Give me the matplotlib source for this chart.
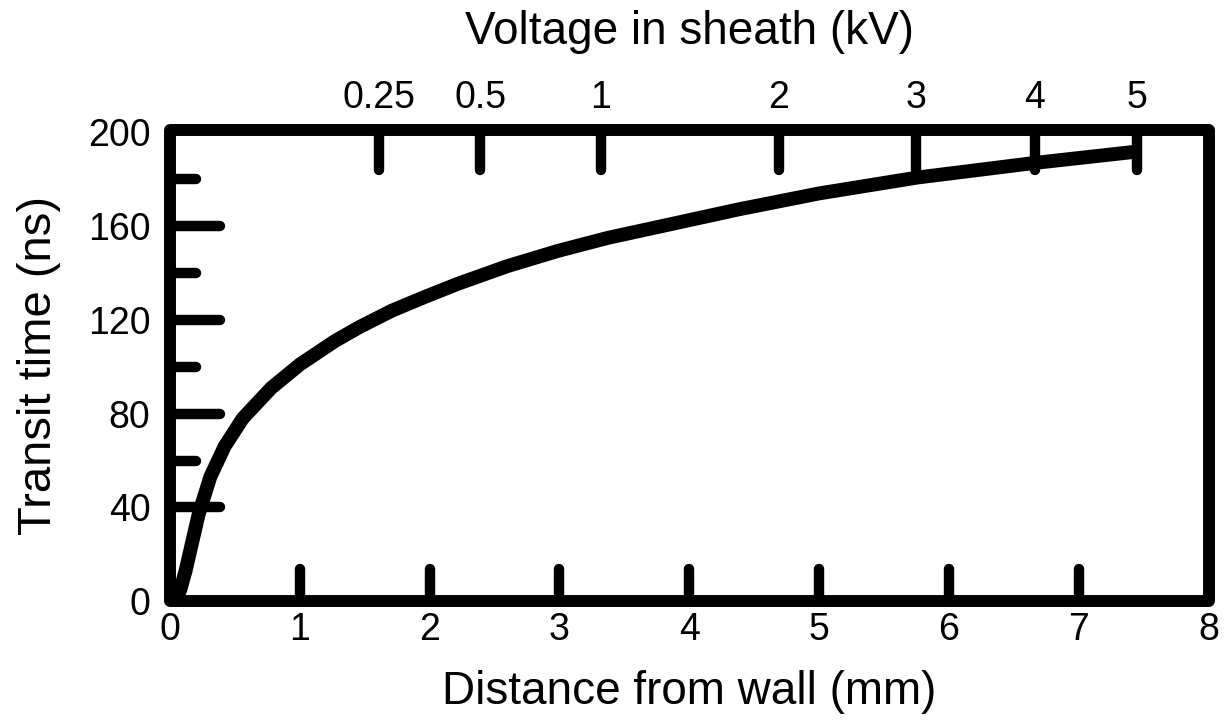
import matplotlib
matplotlib.use("Agg")
import matplotlib.pyplot as plt
from matplotlib.markers import MarkerStyle
from matplotlib.patches import Rectangle

# transit time of ions crossing the sheath, read against distance from the wall
distance_mm = [0.04, 0.08, 0.12, 0.17, 0.22, 0.31, 0.42, 0.56, 0.78, 1.00,
               1.27, 1.46, 1.71, 1.97, 2.22, 2.60, 2.99, 3.37, 3.76, 4.38,
               5.00, 5.76, 6.66, 7.44]
transit_ns = [0, 5, 13, 25, 37, 53, 66, 78, 91, 101,
              111, 117, 124, 130, 135.5, 143, 149.5, 155, 159.7, 167.2,
              174, 180.8, 187, 191.8]

x_ticks = [0, 1, 2, 3, 4, 5, 6, 7, 8]
y_ticks = [0, 40, 80, 120, 160, 200]
y_minor = [60, 100, 140, 180]

# sheath voltage scale, placed at the matching distances
volt_pos_mm = [1.61, 2.39, 3.32, 4.69, 5.75, 6.66, 7.45]
volt_labels = ["0.25", "0.5", "1", "2", "3", "4", "5"]


def round_tick_ends(axis):
    # rounded ends on the tick marks, like pen strokes
    for line in axis.get_ticklines() + axis.get_ticklines(minor=True):
        line.set_marker(MarkerStyle(line.get_marker(), capstyle='round'))


def hide_edge_ticks(axis, edges):
    for tick, loc in zip(axis.get_major_ticks(), axis.get_majorticklocs()):
        if loc in edges:
            tick.tick1line.set_visible(False)
            tick.tick2line.set_visible(False)


plt.rcParams['font.family'] = ['Liberation Sans', 'DejaVu Sans']

fig = plt.figure(figsize=(12.32, 7.27), dpi=100)
ax = fig.add_axes([0.138, 0.173, 0.843, 0.648])

ax.plot(distance_mm, transit_ns, color='black', lw=10, solid_capstyle='butt',
        solid_joinstyle='round', clip_on=False, zorder=3)

ax.set_xlim(0, 8)
ax.set_ylim(0, 201)

for s in ax.spines.values():
    s.set_visible(False)
ax.add_patch(Rectangle((0, 0), 1, 1, transform=ax.transAxes, fill=False,
                       lw=8.6, edgecolor='black', joinstyle='round',
                       clip_on=False, zorder=4))

ax.set_xticks(x_ticks)
ax.set_yticks(y_ticks)
ax.set_yticks(y_minor, minor=True)
ax.tick_params(axis='x', direction='in', length=23, width=7.5, pad=8,
               labelsize=27, color='black')
ax.tick_params(axis='y', which='major', direction='in', length=36, width=7.5,
               pad=14, labelsize=27)
ax.tick_params(axis='y', which='minor', direction='in', length=19, width=7.5)
hide_edge_ticks(ax.xaxis, (0, 8))
hide_edge_ticks(ax.yaxis, (0, 200))
round_tick_ends(ax.xaxis)
round_tick_ends(ax.yaxis)

ax.set_xlabel("Distance from wall (mm)", fontsize=33)
ax.set_ylabel("Transit time (ns)", fontsize=34)
ax.xaxis.set_label_coords(0.5, -0.145)
ax.yaxis.set_label_coords(-0.105, 0.5)

ax2 = ax.twiny()
for s in ax2.spines.values():
    s.set_visible(False)
ax2.set_xlim(ax.get_xlim())
ax2.set_xticks(volt_pos_mm, volt_labels)
ax2.tick_params(axis='x', direction='in', length=29, width=7.5, pad=10,
                labelsize=27)
round_tick_ends(ax2.xaxis)
ax2.set_xlabel("Voltage in sheath (kV)", fontsize=33)
ax2.xaxis.set_label_coords(0.5, 1.182)

fig.savefig("out.png", dpi=100)
